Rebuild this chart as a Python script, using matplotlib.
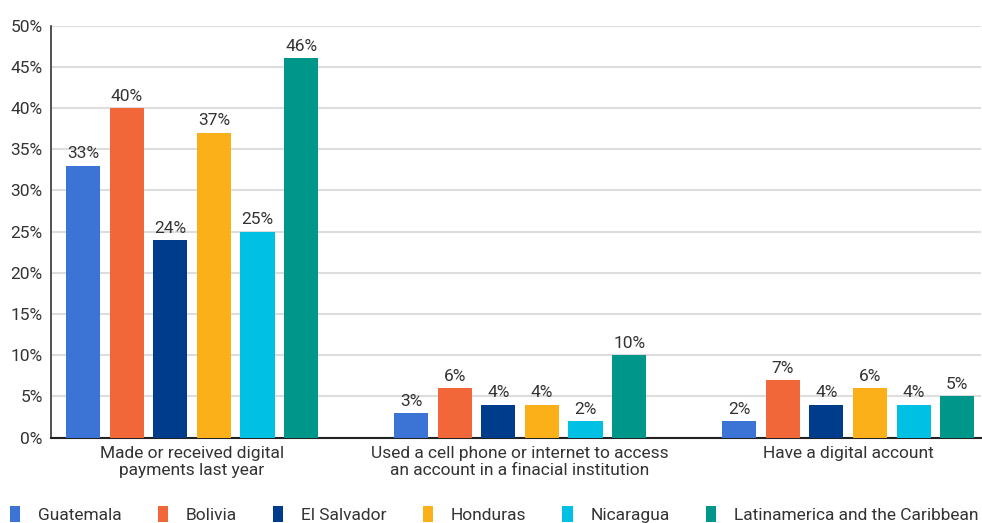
import numpy as np
import matplotlib.pyplot as plt

categories = ["Made or received digital\npayments last year",
              "Used a cell phone or internet to access\nan account in a finacial institution",
              "Have a digital account"]
countries = ["Guatemala", "Bolivia", "El Salvador", "Honduras", "Nicaragua",
             "Latinamerica and the Caribbean"]
values = {
    "Guatemala": [33, 3, 2],
    "Bolivia": [40, 6, 7],
    "El Salvador": [24, 4, 4],
    "Honduras": [37, 4, 6],
    "Nicaragua": [25, 2, 4],
    "Latinamerica and the Caribbean": [46, 10, 5],
}
colors = ["#3b74d4", "#f2673a", "#003c8c", "#fbb01a", "#00c0e3", "#00968a"]
yticks = [0, 5, 10, 15, 20, 25, 30, 35, 40, 45, 50]

plt.rcParams["font.family"] = ["Roboto", "DejaVu Sans"]
txt = "#333333"

fig = plt.figure(figsize=(9.82, 5.23), dpi=100)
ax = fig.add_axes([51 / 982, 1 - 437.5 / 523, 930 / 982, 412 / 523])

x = np.arange(len(categories))
pitch = 0.133
width = 0.104
for i, (c, col) in enumerate(zip(countries, colors)):
    pos = x + (i - 2.5) * pitch
    bars = ax.bar(pos, values[c], width, color=col, label=c, zorder=3)
    ax.bar_label(bars, labels=[f"{v}%" for v in values[c]], padding=3,
                 fontsize=12.5, color=txt)

ax.set_xlim(-0.43, 2.405)
ax.set_ylim(0, 50)
ax.set_yticks(yticks)
ax.set_yticklabels([f"{t}%" for t in yticks])
ax.set_xticks(x)
ax.set_xticklabels(categories)
ax.tick_params(axis="both", length=0, labelsize=12.5, colors=txt)
ax.tick_params(axis="y", pad=6)
ax.tick_params(axis="x", pad=6)
ax.grid(axis="y", color="#dddddd", linewidth=1.5, zorder=0)
for s in ["top", "right"]:
    ax.spines[s].set_visible(False)
ax.spines["left"].set_color("#333333")
ax.spines["bottom"].set_color("#222222")
ax.spines["left"].set_linewidth(1.2)
ax.spines["bottom"].set_linewidth(1.5)

fig.legend(loc="lower left", bbox_to_anchor=(-0.006, -0.03), ncol=6, frameon=False,
           fontsize=12.5, handlelength=0.6, handleheight=1.0, handletextpad=1.0,
           columnspacing=2.1, labelcolor=txt)

fig.savefig("out.png", dpi=100)
